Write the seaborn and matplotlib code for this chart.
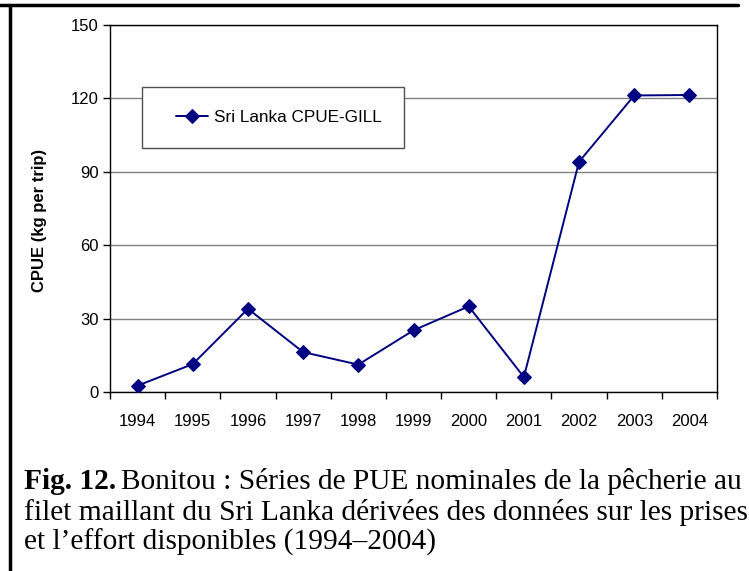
import seaborn as sns
import pandas as pd
import numpy as np
import matplotlib.pyplot as plt
from matplotlib.patches import Rectangle
from matplotlib.lines import Line2D

# CPUE series
years = [1994, 1995, 1996, 1997, 1998, 1999, 2000, 2001, 2002, 2003, 2004]
cpue = [2.6, 11.4, 34.0, 16.3, 11.2, 25.2, 35.0, 6.1, 94.1, 121.2, 121.4]
yticks = [0, 30, 60, 90, 120, 150]
series_name = "Sri Lanka CPUE-GILL"

df = pd.DataFrame({"year": years, "cpue": cpue})

sns.set_theme(style="white")
plt.rcParams['font.family'] = ['Liberation Sans', 'DejaVu Sans']
plt.rcParams['text.color'] = 'black'
plt.rcParams['xtick.color'] = 'black'
plt.rcParams['ytick.color'] = 'black'
plt.rcParams['axes.labelcolor'] = 'black'

W, H = 749, 571
fig = plt.figure(figsize=(W / 100, H / 100), dpi=100)
ax = fig.add_axes([110 / W, 1 - 392 / H, (717 - 110) / W, (392 - 25) / H])

sns.lineplot(data=df, x="year", y="cpue", ax=ax, color="#000080", marker="D",
             markersize=7, markeredgecolor="#000080", linewidth=1.4, zorder=5,
             label=series_name)

ax.set_xlim(years[0] - 0.5, years[-1] + 0.5)
ax.set_ylim(0, 150)
ax.set_yticks(yticks)
ax.yaxis.grid(True, color="#808080", linewidth=1)
ax.set_axisbelow(True)

# category axis: ticks between years, labels centred
ax.set_xticks(np.arange(years[0] - 0.5, years[-1] + 1, 1.0))
ax.set_xticklabels([])
ax.set_xticks(years, minor=True)
ax.set_xticklabels([str(y) for y in years], minor=True)
ax.tick_params(axis="x", which="major", direction="out", length=5, width=1, color="black", bottom=True)
ax.tick_params(axis="x", which="minor", length=0, labelsize=12, pad=16)
ax.tick_params(axis="y", direction="out", length=5, width=1, color="black", left=True, labelsize=12, pad=3)

for s in ax.spines.values():
    s.set_color("black")
    s.set_linewidth(1)
    s.set_visible(True)

ax.set_xlabel("")
ax.set_ylabel("CPUE (kg per trip)", fontsize=12, fontweight="bold")
ax.yaxis.set_label_coords(-(110 - 47) / 607, (392 - 220) / 367)

# legend box
ax.add_patch(Rectangle((0.052, 0.665), 0.433, 0.166, transform=ax.transAxes,
                       facecolor="white", edgecolor="#505050", linewidth=1, zorder=3))
leg = ax.legend(loc="center left", bbox_to_anchor=((176 - 110) / 607, (392 - 117.5) / 367),
                frameon=False, borderpad=0, borderaxespad=0, handlelength=1.9,
                handletextpad=0.3, fontsize=12.3)
leg.set_zorder(6)

# outer frame (top and left edges)
fig.add_artist(Line2D([0, 738 / W], [1 - 5 / H, 1 - 5 / H], color="black", linewidth=2.5))
fig.add_artist(Line2D([9.5 / W, 9.5 / W], [1 - 5 / H, 0], color="black", linewidth=2.5))

# caption
cap_size = 21.2
serif = ["Liberation Serif", "DejaVu Serif"]
x0 = 24 / W
t = fig.text(x0, 1 - 489 / H, "Fig. 12.", fontsize=cap_size, fontweight="bold",
             family=serif, va="baseline")
fig.canvas.draw()
bb = t.get_window_extent()
fig.text(bb.x1 / W + 0.007, 1 - 489 / H,
         "Bonitou : Séries de PUE nominales de la pêcherie au",
         fontsize=cap_size, family=serif, va="baseline")
fig.text(x0, 1 - 520 / H, "filet maillant du Sri Lanka dérivées des données sur les prises",
         fontsize=cap_size, family=serif, va="baseline")
fig.text(x0, 1 - 550 / H, "et l\u2019effort disponibles (1994\u20132004)",
         fontsize=cap_size, family=serif, va="baseline")

fig.savefig("out.png", dpi=100)
